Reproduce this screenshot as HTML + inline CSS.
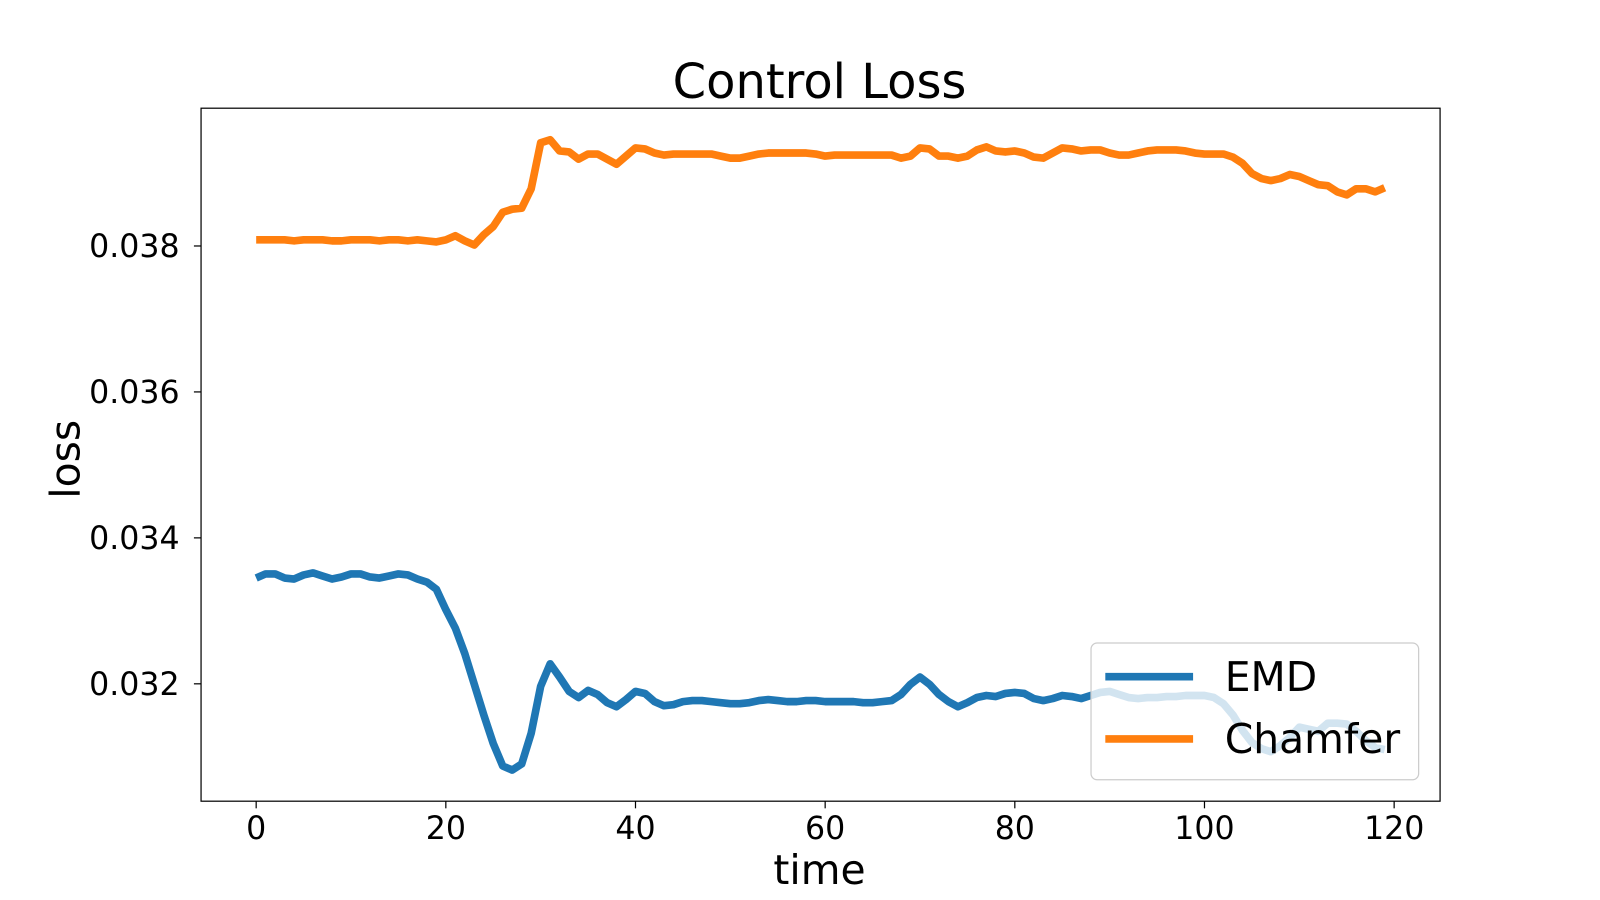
<!DOCTYPE html>
<html><head><meta charset="utf-8"><style>
body{margin:0;background:#fff}
svg{display:block;font-family:"DejaVu Sans","Liberation Sans",sans-serif}
</style></head><body>
<svg id="chart" width="1600" height="900" viewBox="0 0 1567.7 881.8">
<text x="803" y="96" font-size="47" text-anchor="middle">Control Loss</text>
<g id="plot"></g>
<text x="803" y="866" font-size="40" text-anchor="middle">time</text>
<text transform="translate(78,450) rotate(-90)" font-size="40" text-anchor="middle">loss</text>
</svg>
<script>
const xTicks=[0,20,40,60,80,100,120];
const yTicks=[0.032,0.034,0.036,0.038];
const yTickLabels=["0.032","0.034","0.036","0.038"];
const seriesNames=["EMD","Chamfer"];
const emd=[0.03345,0.033506,0.033506,0.03345,0.033436,0.033492,0.03352,0.033478,0.033436,0.033464,0.033506,0.033506,0.033464,0.03345,0.033478,0.033506,0.033492,0.033436,0.033394,0.033296,0.033016,0.032764,0.032414,0.031994,0.031574,0.031182,0.030874,0.030818,0.030902,0.031322,0.031966,0.032274,0.032092,0.031896,0.031812,0.03191,0.031854,0.031742,0.031686,0.031784,0.031896,0.031868,0.031756,0.0317,0.031714,0.031756,0.03177,0.03177,0.031756,0.031742,0.031728,0.031728,0.031742,0.03177,0.031784,0.03177,0.031756,0.031756,0.03177,0.03177,0.031756,0.031756,0.031756,0.031756,0.031742,0.031742,0.031756,0.03177,0.031854,0.031994,0.032092,0.031994,0.031854,0.031756,0.031686,0.031742,0.031812,0.03184,0.031826,0.031868,0.031882,0.031868,0.031798,0.03177,0.031798,0.03184,0.031826,0.031798,0.03184,0.031882,0.031896,0.031854,0.031812,0.031798,0.031812,0.031812,0.031826,0.031826,0.03184,0.03184,0.03184,0.031812,0.031728,0.031574,0.031364,0.031196,0.031112,0.03107,0.031154,0.031266,0.031406,0.031378,0.03135,0.03146,0.03146,0.031448,0.03135,0.031224,0.031126,0.031098];
const chamfer=[0.038084,0.038084,0.038084,0.038084,0.03807,0.038084,0.038084,0.038084,0.03807,0.03807,0.038084,0.038084,0.038084,0.03807,0.038084,0.038084,0.03807,0.038084,0.03807,0.038056,0.038084,0.03814,0.03807,0.038014,0.038154,0.038266,0.038462,0.038504,0.038518,0.038784,0.039414,0.039456,0.039302,0.039288,0.03919,0.03926,0.03926,0.03919,0.03912,0.039232,0.039344,0.03933,0.039274,0.039246,0.03926,0.03926,0.03926,0.03926,0.03926,0.039232,0.039204,0.039204,0.039232,0.03926,0.039274,0.039274,0.039274,0.039274,0.039274,0.03926,0.039232,0.039246,0.039246,0.039246,0.039246,0.039246,0.039246,0.039246,0.039204,0.039232,0.039344,0.03933,0.039232,0.039232,0.039204,0.039232,0.039316,0.039358,0.039302,0.039288,0.039302,0.039274,0.039218,0.039204,0.039274,0.039344,0.03933,0.039302,0.039316,0.039316,0.039274,0.039246,0.039246,0.039274,0.039302,0.039316,0.039316,0.039316,0.039302,0.039274,0.03926,0.03926,0.03926,0.039218,0.039134,0.038994,0.038924,0.038896,0.038924,0.03898,0.038952,0.038896,0.03884,0.038826,0.038742,0.0387,0.038784,0.038784,0.038742,0.038798];
const NS="http://www.w3.org/2000/svg";
const L=197,R=1411,T=106,B=785;
function xs(v){return 251+(v-0)*(1366-251)/120;}
function ys(v){return 241+(0.038-v)*(670-241)/0.006;}
const g=document.getElementById('plot');
function mk(tag,attrs,parent){const e=document.createElementNS(NS,tag);for(const k in attrs)e.setAttribute(k,attrs[k]);(parent||g).appendChild(e);return e;}
const colors=["#1f77b4","#ff7f0e"];
[emd,chamfer].forEach((s,k)=>{
  const p=mk('polyline',{points:s.map((v,i)=>xs(i)+','+ys(v)).join(' '),fill:'none',stroke:colors[k],'stroke-width':7.5,'stroke-linejoin':'round'});
  
  
});
const frame=mk('rect',{x:L,y:T,width:R-L,height:B-T,fill:'none',stroke:'#000','stroke-width':1.2});


xTicks.forEach(t=>{
  const x=xs(t);
  mk('line',{x1:x,x2:x,y1:B,y2:B+7,stroke:'#000','stroke-width':1.2});
  const tx=mk('text',{x:x,y:B+37,'font-size':31,'text-anchor':'middle'});
  tx.textContent=t;
  
  
});
yTicks.forEach((t,i)=>{
  const y=ys(t);
  mk('line',{x1:L-7,x2:L,y1:y,y2:y,stroke:'#000','stroke-width':1.2});
  const tx=mk('text',{x:L-21,y:y+11,'font-size':31,'text-anchor':'end'});
  tx.textContent=yTickLabels[i];
  
  
});
const lg=mk('g',{});


mk('rect',{x:1069,y:630,width:321,height:134,rx:6,fill:'#fff','fill-opacity':0.8,stroke:'#ccc','stroke-width':1.2},lg);
seriesNames.forEach((n,k)=>{
  const y=663+k*61;
  mk('line',{x1:1083,x2:1169,y1:y,y2:y,stroke:colors[k],'stroke-width':7.5},lg);
  const tx=mk('text',{x:1200,y:y+14,'font-size':40},lg);
  tx.textContent=n;
  
  
});
</script>
</body></html>
